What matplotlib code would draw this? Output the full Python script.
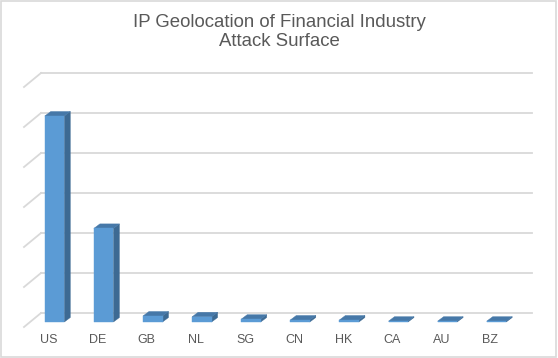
import matplotlib
matplotlib.use("Agg")
import matplotlib.pyplot as plt
from matplotlib.patches import Polygon, Rectangle

categories = ["US", "DE", "GB", "NL", "SG", "CN", "HK", "CA", "AU", "BZ"]
values = [515, 234, 15, 13, 7, 5, 5, 2, 2, 2]
grid_values = [0, 100, 200, 300, 400, 500, 600]
title = "IP Geolocation of Financial Industry\nAttack Surface"

W, H = 558, 358
fig = plt.figure(figsize=(W / 100, H / 100), dpi=100)
fig.patch.set_facecolor("white")

# axes: x from px 24..515 (floor front), y=0 at px 327, 0.4 px per unit
x0px, x1px = 24, 515
y0px = 327
ppu = 0.4
top_px = 60
ymax = (y0px - top_px) / ppu
ax = fig.add_axes([x0px / W, (H - y0px) / H, (x1px - x0px) / W, (y0px - top_px) / H])
ax.set_xlim(-0.5, len(categories) - 0.5)
ax.set_ylim(0, ymax)
ax.axis("off")

pxx = (x1px - x0px) / len(categories)  # px per category unit
wall_dx = 17 / pxx
wall_dy = 14 / ppu
grid_right = (532 - x0px) / pxx - 0.5

grid_col = "#D9D9D9"
for g in grid_values:
    ax.plot([-0.5 + wall_dx, grid_right], [g + wall_dy, g + wall_dy],
            color=grid_col, lw=1.3, clip_on=False, zorder=1)
    ax.plot([-0.5, -0.5 + wall_dx], [g, g + wall_dy],
            color=grid_col, lw=1.3, clip_on=False, zorder=1)

# bars
front_col = "#5B9BD5"
side_col = "#3D6A93"
top_col = "#4678A8"
bar_dx = 6 / pxx
bar_dy = 5 / ppu
depth_dx = 6 / pxx
depth_dy = 4.5 / ppu
bw = 19.5 / pxx
for i, v in enumerate(values):
    xl = i + bar_dx - bw / 2
    xr = i + bar_dx + bw / 2
    yb = bar_dy
    yt = bar_dy + v
    ax.add_patch(Polygon([(xr, yb), (xr, yt), (xr + depth_dx, yt + depth_dy), (xr + depth_dx, yb + depth_dy)],
                         closed=True, facecolor=side_col, edgecolor=side_col, lw=0.3, zorder=3, clip_on=False))
    ax.add_patch(Polygon([(xl, yt), (xr, yt), (xr + depth_dx, yt + depth_dy), (xl + depth_dx, yt + depth_dy)],
                         closed=True, facecolor=top_col, edgecolor=top_col, lw=0.3, zorder=3, clip_on=False))
    ax.add_patch(Rectangle((xl, yb), bw, v, facecolor=front_col, edgecolor=front_col, lw=0.3, zorder=4, clip_on=False))
    ax.text(i, -13 / ppu, categories[i], ha="center", va="center", fontsize=9,
            color="#595959", family="Liberation Sans")

fig.text(0.5, 1 - 32 / H, title, ha="center", va="center", fontsize=13.4,
         color="#595959", family="Liberation Sans", linespacing=1.12)

# chart border
fig.add_artist(Rectangle((0.5 / W, 1.5 / H), (W - 3) / W, (H - 2.5) / H, transform=fig.transFigure,
                         fill=False, edgecolor="#D9D9D9", lw=1.2))

fig.savefig("out.png", dpi=100, facecolor="white")
